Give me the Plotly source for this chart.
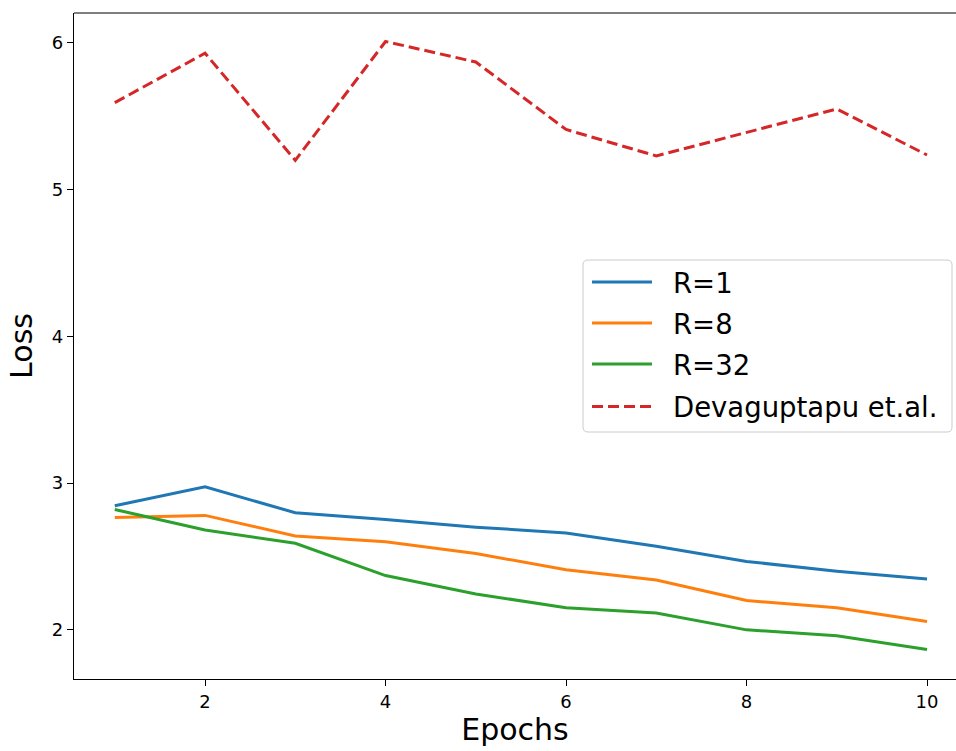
import plotly.graph_objects as go

epochs = [1, 2, 3, 4, 5, 6, 7, 8, 9, 10]
r1 = [2.846, 2.975, 2.798, 2.752, 2.70, 2.66, 2.57, 2.466, 2.40, 2.346]
r8 = [2.766, 2.78, 2.64, 2.60, 2.52, 2.41, 2.34, 2.20, 2.15, 2.057]
r32 = [2.82, 2.68, 2.59, 2.37, 2.245, 2.15, 2.115, 2.00, 1.96, 1.866]
deva = [5.593, 5.93, 5.20, 6.01, 5.87, 5.41, 5.23, 5.39, 5.55, 5.236]

series = [
    ("R=1", r1, "#1f77b4", "solid"),
    ("R=8", r8, "#ff7f0e", "solid"),
    ("R=32", r32, "#2ca02c", "solid"),
    ("Devaguptapu et.al.", deva, "#d62728", "11px,5px"),
]

W, H = 956, 751
ML, MR, MT, MB = 74, 0, 13, 72
PW, PH = W - ML - MR, H - MT - MB


def px(xp):
    return (xp - ML) / PW


def py(yp):
    return (H - MB - yp) / PH


font_family = "DejaVu Sans, sans-serif"

fig = go.Figure()
for name, vals, color, dash in series:
    fig.add_trace(go.Scatter(
        x=epochs, y=vals, mode="lines", name=name,
        line=dict(color=color, width=3, dash=dash),
        showlegend=False,
    ))

# legend box (rounded)
bx0, bx1, by0, by1 = px(583), px(952), py(432), py(260)
rx, ry = 5 / PW, 5 / PH
box_path = (
    f"M{bx0+rx},{by0} L{bx1-rx},{by0} Q{bx1},{by0} {bx1},{by0+ry} "
    f"L{bx1},{by1-ry} Q{bx1},{by1} {bx1-rx},{by1} "
    f"L{bx0+rx},{by1} Q{bx0},{by1} {bx0},{by1-ry} "
    f"L{bx0},{by0+ry} Q{bx0},{by0} {bx0+rx},{by0} Z"
)
shapes = [
    dict(type="line", xref="paper", yref="paper", x0=0, x1=1, y0=1, y1=1,
         line=dict(color="#000000", width=1.2)),
    dict(type="path", xref="paper", yref="paper", path=box_path,
         fillcolor="rgba(255,255,255,0.8)", line=dict(color="#cccccc", width=1)),
]
annotations = []
entry_y = [282, 323, 364, 406.5]
for (name, vals, color, dash), ey in zip(series, entry_y):
    shapes.append(dict(type="line", xref="paper", yref="paper",
                       x0=px(592), x1=px(652), y0=py(ey), y1=py(ey),
                       line=dict(color=color, width=3, dash=dash)))
    annotations.append(dict(xref="paper", yref="paper", x=px(671), y=py(ey + 0.5),
                            xanchor="left", yanchor="middle", showarrow=False,
                            text=name, font=dict(size=27.5, family=font_family, color="#000000")))

fig.update_layout(
    width=W, height=H,
    margin=dict(l=ML, r=MR, t=MT, b=MB),
    paper_bgcolor="white", plot_bgcolor="white",
    font=dict(family=font_family, color="#000000"),
    showlegend=False,
    xaxis=dict(
        range=[0.548, 10.321], tickvals=[2, 4, 6, 8, 10],
        showgrid=False, zeroline=False, showline=True, linecolor="#000000", linewidth=1.2,
        ticks="outside", ticklen=6, tickwidth=1, tickcolor="#000000",
        tickfont=dict(size=18, family=font_family),
        title=dict(text="Epochs", font=dict(size=30, family=font_family), standoff=6),
    ),
    yaxis=dict(
        range=[1.665, 6.204], tickvals=[2, 3, 4, 5, 6],
        showgrid=False, zeroline=False, showline=True, linecolor="#000000", linewidth=1.2,
        ticks="outside", ticklen=6, tickwidth=1, tickcolor="#000000",
        tickfont=dict(size=18, family=font_family),
        title=dict(text="Loss", font=dict(size=30, family=font_family), standoff=10),
    ),
    shapes=shapes,
    annotations=annotations,
)

fig.write_html("out.html")
